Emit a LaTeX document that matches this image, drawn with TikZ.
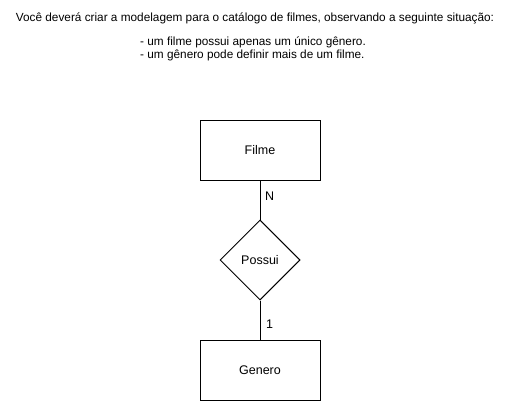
\documentclass[tikz,border=0pt]{standalone}
\usepackage{fontspec}
\setmainfont{Liberation Sans}
\usetikzlibrary{shapes.geometric}
\begin{document}
\begin{tikzpicture}[x=1pt,y=-1pt,
  entity/.style={draw,line width=1pt,minimum width=120pt,minimum height=60pt,inner sep=0pt,font=\fontsize{12.5}{14}\selectfont},
  rel/.style={draw,diamond,line width=1pt,minimum width=80pt,minimum height=80pt,inner sep=0pt,aspect=1,font=\fontsize{12.5}{14}\selectfont},
  conn/.style={line width=1pt},
  card/.style={font=\fontsize{12.5}{14}\selectfont,anchor=west,inner sep=0pt},
  txt/.style={font=\fontsize{11.8}{12.5}\selectfont,inner sep=0pt}]
\useasboundingbox (0,0) rectangle (510,401);
\node[txt] (title) at (255,18) {Você deverá criar a modelagem para o catálogo de filmes, observando a seguinte situação:};
\node[txt,anchor=west,align=left] (rules) at (140,49) {- um filme possui apenas um único gênero.\\- um gênero pode definir mais de um filme.};
\node[entity] (filme) at (260,150) {Filme};
\node[rel] (possui) at (260,260) {Possui};
\node[entity] (genero) at (260,370) {Genero};
\draw[conn] (filme.south) -- (possui.north);
\draw[conn] (possui.south) -- (genero.north);
\node[card] (n) at (265,196) {N};
\node[card] (one) at (266,324) {1};
\end{tikzpicture}
\end{document}
